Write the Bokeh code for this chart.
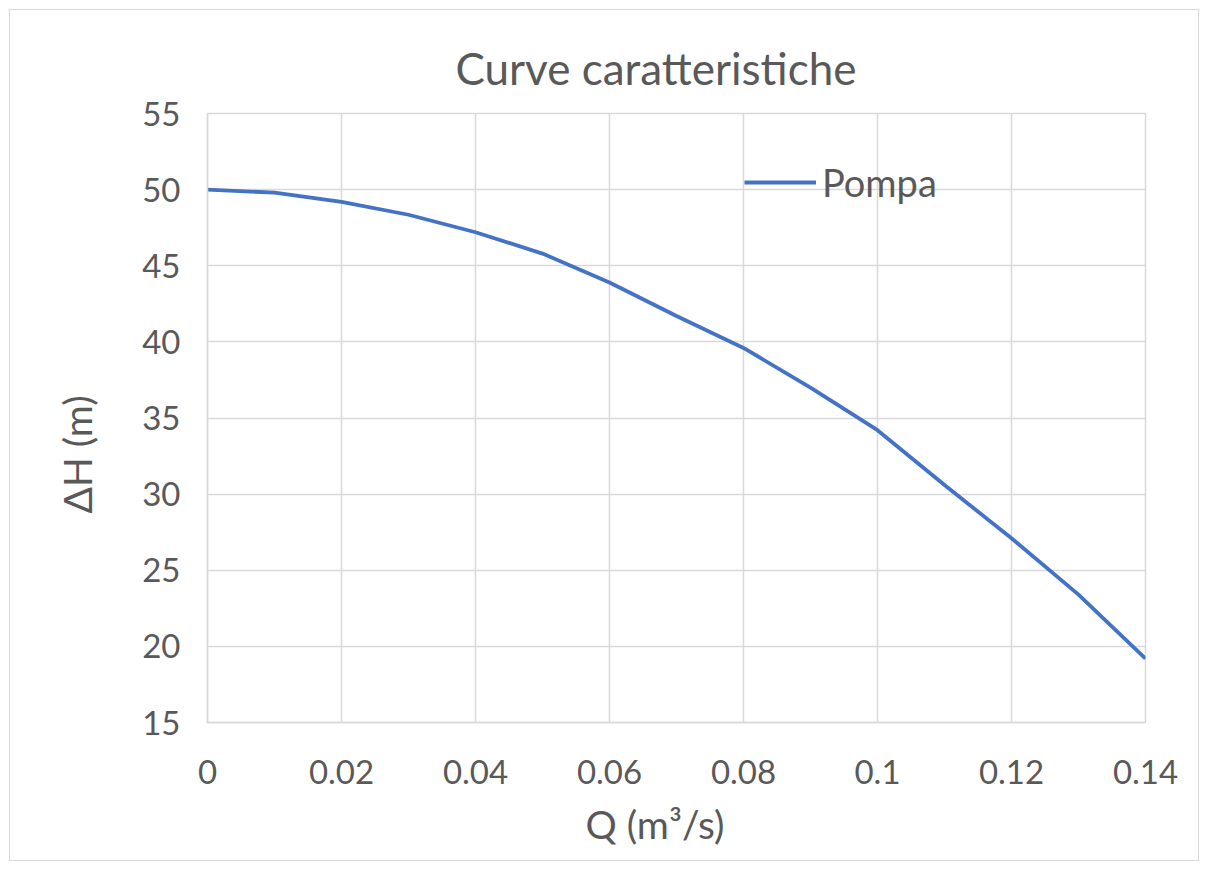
from bokeh.plotting import figure
from bokeh.models import Range1d, Legend, LegendItem, SingleIntervalTicker, Title
from bokeh.embed import file_html
from bokeh.resources import INLINE

# Data
q_values = [0.0, 0.01, 0.02, 0.03, 0.04, 0.05, 0.06, 0.07, 0.08, 0.09, 0.10, 0.11, 0.12, 0.13, 0.14]
dh_pompa = [50.0, 49.8, 49.2, 48.35, 47.2, 45.8, 43.9, 41.7, 39.6, 37.0, 34.2, 30.6, 27.1, 23.4, 19.2]
series_name = "Pompa"
title_text = "Curve caratteristiche"
x_label = "Q (m³/s)"
y_label = "ΔH (m)"

FONT = "Lato"
TXT = "#595959"
GRID = "#d9d9d9"

p = figure(width=1190, height=852, output_backend="svg", toolbar_location=None,
           x_range=Range1d(0, 0.14), y_range=Range1d(15, 55),
           min_border_left=197, min_border_right=55, min_border_top=103, min_border_bottom=140)
p.styles = {"border": "1px solid #d9d9d9", "margin-left": "9px", "margin-top": "9px"}

p.title.text = title_text
p.title.align = "left"
p.title.offset = 248
p.title.text_font = FONT
p.title.text_font_size = "44px"
p.title.text_font_style = "normal"
p.title.text_color = TXT
p.title.standoff = 40

p.outline_line_color = GRID
p.outline_line_width = 1.5

p.xaxis.ticker = SingleIntervalTicker(interval=0.02)
p.yaxis.ticker = SingleIntervalTicker(interval=5)
p.xaxis.major_label_overrides = {0: "0", 0.1: "0.1"}

for ax in (p.xaxis[0], p.yaxis[0]):
    ax.axis_line_color = GRID
    ax.axis_line_width = 1.5
    ax.major_tick_line_color = None
    ax.minor_tick_line_color = None
    ax.major_label_text_font = FONT
    ax.major_label_text_font_size = "33px"
    ax.major_label_text_color = TXT

p.xaxis.major_label_standoff = 31
p.yaxis.major_label_standoff = 21

# axis titles (placed like the reference, slightly off-centre)
x_title = Title(text=x_label, align="left", offset=378, standoff=25,
                text_font=FONT, text_font_size="39px", text_font_style="normal",
                text_color=TXT)
p.add_layout(x_title, "below")
y_title = Title(text=y_label, align="left", offset=209, standoff=79,
                text_font=FONT, text_font_size="39px", text_font_style="normal",
                text_color=TXT)
p.add_layout(y_title, "left")

p.xgrid.grid_line_color = GRID
p.ygrid.grid_line_color = GRID
p.xgrid.grid_line_width = 1.5
p.ygrid.grid_line_width = 1.5

r = p.line(q_values, dh_pompa, line_color="#4472C4", line_width=3.8)

legend = Legend(items=[LegendItem(label=series_name, renderers=[r])],
                location=(537, 517), orientation="vertical")
legend.background_fill_alpha = 0
legend.border_line_color = None
legend.label_text_font = FONT
legend.label_text_font_size = "38px"
legend.label_text_color = TXT
legend.glyph_width = 72
legend.glyph_height = 30
legend.label_standoff = 6
legend.padding = 0
legend.margin = 0
p.add_layout(legend, "center")

open("out.html", "w").write(file_html(p, INLINE))
